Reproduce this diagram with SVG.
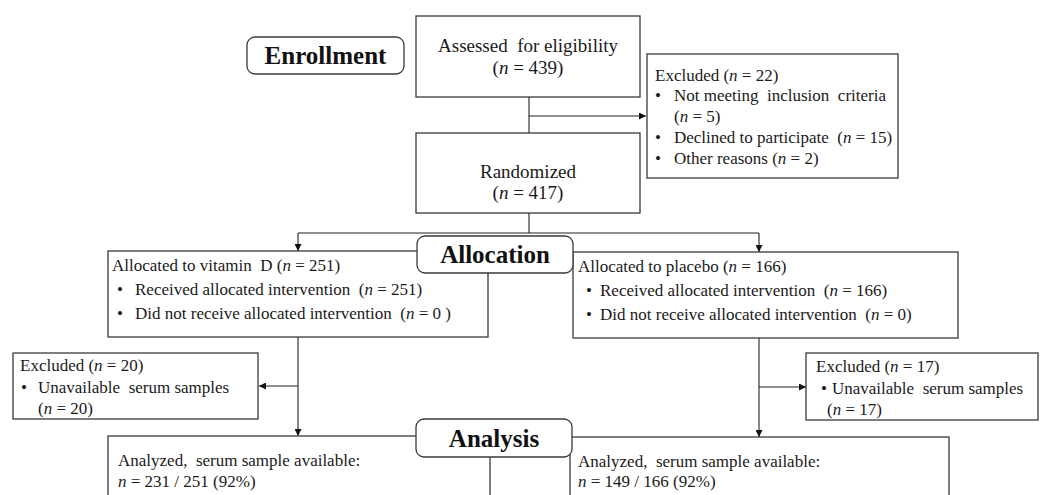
<svg xmlns="http://www.w3.org/2000/svg" width="1041" height="495" viewBox="0 0 1041 495">
<style>
.box{fill:#fff;stroke:#3a3a3a;stroke-width:1.3}
.lbl{fill:#fff;stroke:#3a3a3a;stroke-width:1.3}
.t{font-family:"Liberation Serif","Times New Roman",serif;font-size:17px;fill:#1a1a1a}
.tb{font-family:"Liberation Serif","Times New Roman",serif;font-size:19px;fill:#1a1a1a}
.th{font-family:"Liberation Serif","Times New Roman",serif;font-size:25px;font-weight:bold;fill:#111}
.c{fill:none;stroke:#222;stroke-width:1.1}
</style>
<defs>
<marker id="ah" viewBox="0 0 10 10" refX="10" refY="5" markerWidth="7" markerHeight="7" markerUnits="userSpaceOnUse" orient="auto">
<path d="M0,0 L10,5 L0,10 z" fill="#111"/>
</marker>
</defs>
<g id="connectors">
<path class="c" d="M529,97 V133"/>
<path class="c" d="M529,116 H646" marker-end="url(#ah)"/>
<path class="c" d="M529,213 V233"/>
<path class="c" d="M298,233 H759"/>
<path class="c" d="M298,233 V251" marker-end="url(#ah)"/>
<path class="c" d="M759,233 V252" marker-end="url(#ah)"/>
<path class="c" d="M298,337 V436" marker-end="url(#ah)"/>
<path class="c" d="M298,386 H259" marker-end="url(#ah)"/>
<path class="c" d="M759,338 V437" marker-end="url(#ah)"/>
<path class="c" d="M759,387 H806" marker-end="url(#ah)"/>
</g>
<g id="enrollment">
<rect class="lbl" x="247" y="37" width="157" height="37" rx="8"/>
<text class="th" x="325.5" y="64" text-anchor="middle">Enrollment</text>
</g>
<g id="assessed">
<rect class="box" x="416" y="16" width="224" height="81"/>
<text class="tb" x="528" y="52" text-anchor="middle" xml:space="preserve">Assessed  for eligibility</text>
<text class="tb" x="528" y="74" text-anchor="middle">(<tspan font-style="italic">n</tspan> = 439)</text>
</g>
<g id="excluded-top">
<rect class="box" x="647" y="54" width="251" height="124"/>
<text class="t" x="655" y="81" font-size="16.5">Excluded (<tspan font-style="italic">n</tspan> = 22)</text>
<text class="t" x="655" y="101" font-size="16.5">•</text>
<text class="t" x="674" y="101" font-size="16.5" xml:space="preserve">Not meeting  inclusion  criteria</text>
<text class="t" x="674" y="122" font-size="16.5">(<tspan font-style="italic">n</tspan> = 5)</text>
<text class="t" x="655" y="143" font-size="16.5">•</text>
<text class="t" x="674" y="143" font-size="16.5" xml:space="preserve">Declined to participate  (<tspan font-style="italic">n</tspan> = 15)</text>
<text class="t" x="655" y="164" font-size="16.5">•</text>
<text class="t" x="674" y="164" font-size="16.5">Other reasons (<tspan font-style="italic">n</tspan> = 2)</text>
</g>
<g id="randomized">
<rect class="box" x="416" y="133" width="224" height="80"/>
<text class="tb" x="528" y="178" text-anchor="middle">Randomized</text>
<text class="tb" x="528" y="199" text-anchor="middle">(<tspan font-style="italic">n</tspan> = 417)</text>
</g>
<g id="alloc-vitd">
<rect class="box" x="108" y="251" width="380" height="86"/>
<text class="t" x="112" y="271" xml:space="preserve">Allocated to vitamin  D (<tspan font-style="italic">n</tspan> = 251)</text>
<text class="t" x="117" y="295">•</text>
<text class="t" x="135" y="295" xml:space="preserve">Received allocated intervention  (<tspan font-style="italic">n</tspan> = 251)</text>
<text class="t" x="117" y="319">•</text>
<text class="t" x="135" y="319" xml:space="preserve">Did not receive allocated intervention  (<tspan font-style="italic">n</tspan> = 0 )</text>
</g>
<g id="alloc-placebo">
<rect class="box" x="573" y="252" width="385" height="86"/>
<text class="t" x="578" y="272">Allocated to placebo (<tspan font-style="italic">n</tspan> = 166)</text>
<text class="t" x="586" y="296">•</text>
<text class="t" x="600" y="296" xml:space="preserve">Received allocated intervention  (<tspan font-style="italic">n</tspan> = 166)</text>
<text class="t" x="586" y="320">•</text>
<text class="t" x="600" y="320" xml:space="preserve">Did not receive allocated intervention  (<tspan font-style="italic">n</tspan> = 0)</text>
</g>
<g id="allocation">
<rect class="lbl" x="417" y="236" width="156" height="37" rx="8"/>
<text class="th" x="495" y="263" text-anchor="middle">Allocation</text>
</g>
<g id="excluded-left">
<rect class="box" x="13" y="353" width="245" height="66"/>
<text class="t" x="20" y="371">Excluded (<tspan font-style="italic">n</tspan> = 20)</text>
<text class="t" x="21" y="393">•</text>
<text class="t" x="38" y="393" xml:space="preserve">Unavailable  serum samples</text>
<text class="t" x="38" y="414">(<tspan font-style="italic">n</tspan> = 20)</text>
</g>
<g id="excluded-right">
<rect class="box" x="806" y="353" width="232" height="67"/>
<text class="t" x="816" y="372">Excluded (<tspan font-style="italic">n</tspan> = 17)</text>
<text class="t" x="821" y="394">•</text>
<text class="t" x="832" y="394" xml:space="preserve">Unavailable  serum samples</text>
<text class="t" x="827" y="415">(<tspan font-style="italic">n</tspan> = 17)</text>
</g>
<g id="analyzed-vitd">
<rect class="box" x="108" y="436" width="382" height="70"/>
<text class="t" x="118" y="466" xml:space="preserve">Analyzed,  serum sample available:</text>
<text class="t" x="118" y="487"><tspan font-style="italic">n</tspan> = 231 / 251 (92%)</text>
</g>
<g id="analyzed-placebo">
<rect class="box" x="570" y="437" width="379" height="70"/>
<text class="t" x="578" y="467" xml:space="preserve">Analyzed,  serum sample available:</text>
<text class="t" x="578" y="487"><tspan font-style="italic">n</tspan> = 149 / 166 (92%)</text>
</g>
<g id="analysis">
<rect class="lbl" x="416" y="419" width="156" height="38" rx="8"/>
<text class="th" x="494" y="447" text-anchor="middle">Analysis</text>
</g>
</svg>
